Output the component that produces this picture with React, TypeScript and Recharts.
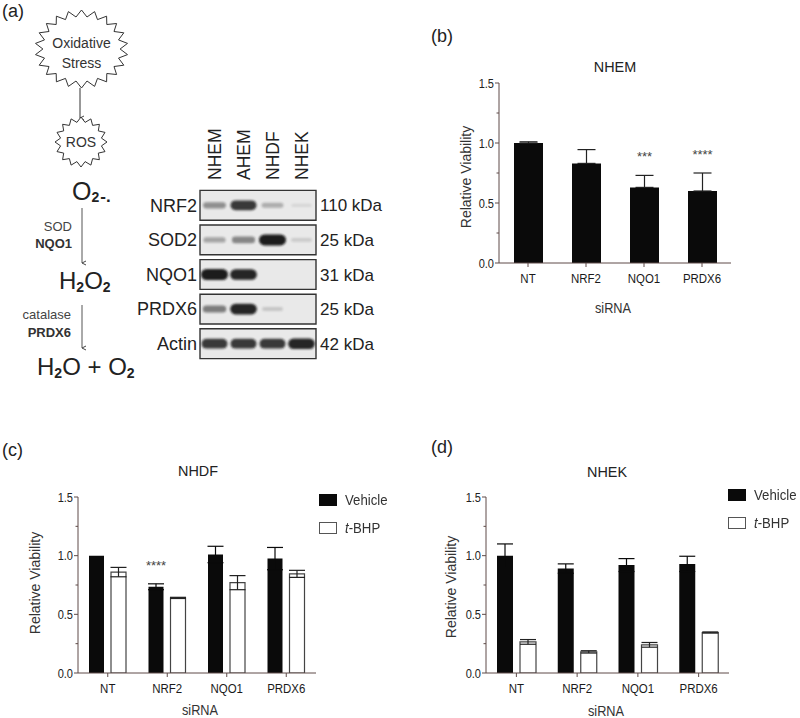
import React from 'react';
import {
  BarChart,
  Bar,
  XAxis,
  YAxis,
  ErrorBar,
  LabelList,
  Legend,
  ScatterChart,
  Scatter,
  ReferenceArea,
} from 'recharts';

const siRNA = ['NT', 'NRF2', 'NQO1', 'PRDX6'];

// (b) NHEM, single series, upward SEM only
const nhemViability = [1.0, 0.83, 0.63, 0.6];
const nhemSem = [0.01, 0.115, 0.1, 0.15];
const nhemStars = ['', '', '***', '****'];

// (c) NHDF
const nhdfVehicle = [1.0, 0.735, 1.01, 0.975];
const nhdfVehicleSem = [0, 0.025, 0.07, 0.095];
const nhdfTbhp = [0.86, 0.64, 0.77, 0.845];
const nhdfTbhpSem = [0.04, 0.005, 0.06, 0.03];
const nhdfStars = ['', '****', '', ''];

// (d) NHEK
const nhekVehicle = [1.0, 0.89, 0.92, 0.93];
const nhekVehicleSem = [0.1, 0.04, 0.055, 0.065];
const nhekTbhp = [0.265, 0.18, 0.24, 0.345];
const nhekTbhpSem = [0.02, 0.01, 0.02, 0.005];
const nhekStars = ['', '', '', ''];

// (a) western blot, band strength per lane (0 = no band)
const lanes = ['NHEM', 'AHEM', 'NHDF', 'NHEK'];
const proteins = ['NRF2', 'SOD2', 'NQO1', 'PRDX6', 'Actin'];
const proteinSizes = ['110 kDa', '25 kDa', '31 kDa', '25 kDa', '42 kDa'];
const nrf2Bands = [0.4, 0.85, 0.25, 0.04];
const sod2Bands = [0.3, 0.45, 1.0, 0.1];
const nqo1Bands = [1.0, 0.95, 0, 0];
const prdx6Bands = [0.5, 0.95, 0.12, 0];
const actinBands = [0.85, 0.85, 0.85, 0.95];

const AXIS = '#5e4b48';
const INK = '#0a0a0a';
const FONT = '"Liberation Sans", Arial, sans-serif';
const SQUEEZE = 0.85; // the figure's chart lettering is horizontally condensed
const yTicks = [0, 0.25, 0.5, 0.75, 1, 1.25, 1.5];

const nhemRows = siRNA.map((name, i) => ({
  name,
  value: nhemViability[i],
  err: nhemSem[i],
  stars: nhemStars[i],
}));

const pairRows = (veh: number[], vehErr: number[], tb: number[], tbErr: number[], stars: string[]) =>
  siRNA.map((name, i) => ({
    name,
    vehicle: veh[i],
    vehicleErr: vehErr[i],
    tbhp: tb[i],
    tbhpErr: tbErr[i],
    stars: stars[i],
  }));

const nhdfRows = pairRows(nhdfVehicle, nhdfVehicleSem, nhdfTbhp, nhdfTbhpSem, nhdfStars);
const nhekRows = pairRows(nhekVehicle, nhekVehicleSem, nhekTbhp, nhekTbhpSem, nhekStars);

const blotRows = [nrf2Bands, sod2Bands, nqo1Bands, prdx6Bands, actinBands];
const bandPoints = blotRows.flatMap((row, r) =>
  row.map((level, lane) => ({ lane, row: r, level }))
);

// horizontally condensed svg text
function Narrow({ x, y, size, anchor = 'middle', scale = SQUEEZE, fill = '#222', weight, children, dy }: any) {
  return (
    <text
      transform={`translate(${x} ${y}) scale(${scale} 1)`}
      textAnchor={anchor}
      fontSize={size}
      fontWeight={weight}
      fill={fill}
      fontFamily={FONT}
      dy={dy}
    >
      {children}
    </text>
  );
}

function ViabilityTick({ x, y, payload }: any) {
  const v = payload.value;
  const major = Math.abs(v * 2 - Math.round(v * 2)) < 1e-6;
  return (
    <g>
      <line x1={x - (major ? 4 : 2.5)} x2={x} y1={y} y2={y} stroke={AXIS} strokeWidth={1} />
      {major && (
        <Narrow x={x - 5} y={y} dy="0.36em" anchor="end" size={13}>
          {v.toFixed(1)}
        </Narrow>
      )}
    </g>
  );
}

function CategoryTick({ x, y, payload }: any) {
  return (
    <Narrow x={x} y={y} dy="0.71em" size={13.5} fill="#1a1a1a">
      {payload.value}
    </Narrow>
  );
}

// asterisks sit a fixed distance above the top of the error bar
const starLabel = (rows: any[], valueKey: string, errKey: string) => (p: any) => {
  const row = rows[p.index];
  if (!row || !row.stars) return null;
  const vb = p.viewBox || p;
  const perUnit = vb.height / row[valueKey];
  const top = vb.y - row[errKey] * perUnit;
  return (
    <text x={vb.x + vb.width / 2} y={top - 14} textAnchor="middle" fontSize={13} fill="#444" fontFamily={FONT}>
      {row.stars}
    </text>
  );
};

const legendText: React.CSSProperties = {
  display: 'inline-block',
  transform: 'scaleX(0.88)',
  transformOrigin: 'left center',
  whiteSpace: 'nowrap',
};

const legendContent = () => (
  <div style={{ fontFamily: FONT, fontSize: 15, color: '#333', lineHeight: '12px' }}>
    <div style={{ display: 'flex', alignItems: 'center', height: 12, marginBottom: 16 }}>
      <div style={{ width: 18, height: 12, background: INK, marginRight: 8, flex: 'none' }} />
      <span style={legendText}>Vehicle</span>
    </div>
    <div style={{ display: 'flex', alignItems: 'center', height: 12 }}>
      <div style={{ width: 16, height: 10, border: '1px solid #555', background: '#fff', marginRight: 8, flex: 'none' }} />
      <span style={legendText}>
        <i>t</i>-BHP
      </span>
    </div>
  </div>
);

const xAxisProps = {
  dataKey: 'name',
  height: 30,
  axisLine: { stroke: AXIS },
  tickLine: { stroke: AXIS },
  tickSize: 4,
  tickMargin: 6,
  interval: 0 as const,
  tick: <CategoryTick />,
};

const yAxisProps = {
  width: 40,
  type: 'number' as const,
  domain: [0, 1.5],
  ticks: yTicks,
  interval: 0 as const,
  axisLine: { stroke: AXIS },
  tickLine: false,
  tickSize: 0,
  tickMargin: 0,
  tick: <ViabilityTick />,
  allowDataOverflow: true,
};

function PairChart({ rows, margin, barSize, legendPos }: any) {
  return (
    <BarChart width={400} height={338} data={rows} margin={margin} barGap={7}>
      <XAxis {...xAxisProps} />
      <YAxis {...yAxisProps} />
      <Legend
        layout="vertical"
        align="center"
        verticalAlign="middle"
        content={legendContent}
        wrapperStyle={{ position: 'absolute', left: legendPos[0], top: legendPos[1], width: 'auto' }}
      />
      <Bar dataKey="vehicle" fill={INK} barSize={barSize} isAnimationActive={false}>
        <ErrorBar dataKey="vehicleErr" width={8} stroke={INK} strokeWidth={1.2} direction="y" />
        <LabelList dataKey="stars" content={starLabel(rows, 'vehicle', 'vehicleErr')} />
      </Bar>
      <Bar dataKey="tbhp" fill="#fff" stroke="#444" strokeWidth={1.2} barSize={barSize} isAnimationActive={false}>
        <ErrorBar dataKey="tbhpErr" width={8} stroke="#222" strokeWidth={1.2} direction="y" />
      </Bar>
    </BarChart>
  );
}

function LaneTick({ x, y, payload }: any) {
  return (
    <text
      x={x}
      y={y}
      dy="0.36em"
      transform={`rotate(-90 ${x} ${y})`}
      textAnchor="start"
      fontSize={17.5}
      fill="#222"
      fontFamily={FONT}
    >
      {lanes[payload.value]}
    </text>
  );
}

function Band({ cx, cy, payload }: any) {
  const level = payload.level;
  if (!level) return <g />;
  const w = 20 + 7 * level;
  const h = 3 + 8 * level;
  return (
    <rect
      x={cx - w / 2}
      y={cy - h / 2}
      width={w}
      height={h}
      rx={h / 2}
      fill="#151515"
      opacity={0.05 + 0.92 * level}
      filter="url(#bandBlur)"
    />
  );
}

function burst(cx: number, cy: number, rx: number, ry: number, inner: number, n: number) {
  const pts: string[] = [];
  for (let i = 0; i < 2 * n; i++) {
    const a = (Math.PI * i) / n - Math.PI / 2;
    const k = i % 2 === 0 ? 1 : inner;
    pts.push(`${(cx + Math.cos(a) * rx * k).toFixed(1)},${(cy + Math.sin(a) * ry * k).toFixed(1)}`);
  }
  return pts.join(' ');
}

export default function App() {
  return (
    <div
      style={{
        position: 'absolute',
        left: 0,
        top: 0,
        width: 800,
        height: 718,
        background: '#fff',
        overflow: 'hidden',
        fontFamily: FONT,
      }}
    >
      <svg width={800} height={718} style={{ position: 'absolute', left: 0, top: 0 }} fontFamily={FONT}>
        <defs>
          <filter id="bandBlur" x="-50%" y="-150%" width="200%" height="400%">
            <feGaussianBlur stdDeviation="1.3" />
          </filter>
          <marker id="arrowHead" markerWidth="6" markerHeight="6" refX="3" refY="5" orient="auto" markerUnits="userSpaceOnUse">
            <path d="M1,1 L3,5 L5,1" fill="none" stroke="#444" strokeWidth={1} />
          </marker>
        </defs>

        {/* panel letters */}
        <text x={2} y={17} fontSize={18} fill="#222">(a)</text>
        <text x={431} y={42} fontSize={18} fill="#222">(b)</text>
        <text x={2} y={456} fontSize={18} fill="#222">(c)</text>
        <text x={431} y={453} fontSize={18} fill="#222">(d)</text>

        {/* (a) pathway */}
        <polygon points={burst(81.5, 49, 46.5, 39, 0.83, 22)} fill="#fff" stroke="#333" strokeWidth={1} />
        <text x={81.5} y={48} fontSize={14} textAnchor="middle" fill="#333">Oxidative</text>
        <text x={81.5} y={68} fontSize={14} textAnchor="middle" fill="#333">Stress</text>
        <line x1={80} y1={88} x2={80} y2={118} stroke="#333" strokeWidth={1} markerEnd="url(#arrowHead)" />
        <polygon points={burst(81, 142, 26, 25, 0.8, 16)} fill="#fff" stroke="#333" strokeWidth={1} />
        <text x={81} y={147} fontSize={14} textAnchor="middle" fill="#333">ROS</text>

        <text x={72} y={200} fontSize={25} fill="#222">
          O<tspan fontSize={14} fontWeight="bold" dy={2}>2</tspan>
          <tspan fontSize={17} fontWeight="bold" dx={1}>-.</tspan>
        </text>
        <line x1={82} y1={208} x2={82} y2={263} stroke="#555" strokeWidth={1} markerEnd="url(#arrowHead)" />
        <text x={72} y={231} fontSize={13} textAnchor="end" fill="#444">SOD</text>
        <text x={72} y={248} fontSize={13} fontWeight="bold" textAnchor="end" fill="#333">NQO1</text>
        <text x={59} y={289} fontSize={24} fill="#222">
          H<tspan fontSize={14} fontWeight="bold" dy={3}>2</tspan>
          <tspan dy={-3}>O</tspan>
          <tspan fontSize={14} fontWeight="bold" dy={3}>2</tspan>
        </text>
        <line x1={82} y1={305} x2={82} y2={348} stroke="#555" strokeWidth={1} markerEnd="url(#arrowHead)" />
        <text x={71} y={319} fontSize={13} textAnchor="end" fill="#444">catalase</text>
        <text x={71} y={337} fontSize={13} fontWeight="bold" textAnchor="end" fill="#333">PRDX6</text>
        <text x={37} y={375} fontSize={24} fill="#222">
          H<tspan fontSize={14} fontWeight="bold" dy={3}>2</tspan>
          <tspan dy={-3}>O + O</tspan>
          <tspan fontSize={14} fontWeight="bold" dy={3}>2</tspan>
        </text>

        {/* chart titles and axis titles */}
        <Narrow x={615} y={72} size={15.5} scale={0.93}>NHEM</Narrow>
        <Narrow x={198} y={476} size={15.5} scale={0.93}>NHDF</Narrow>
        <Narrow x={607} y={477} size={15.5} scale={0.93}>NHEK</Narrow>

        <text x={471} y={177} fontSize={14} textAnchor="middle" fill="#333" transform="rotate(-90 471 177)">Relative Viability</text>
        <text x={40} y={583} fontSize={14} textAnchor="middle" fill="#333" transform="rotate(-90 40 583)">Relative Viability</text>
        <text x={456} y={587} fontSize={14} textAnchor="middle" fill="#333" transform="rotate(-90 456 587)">Relative Viability</text>

        <Narrow x={613} y={313} size={15} fill="#333">siRNA</Narrow>
        <Narrow x={200} y={715} size={15} fill="#333">siRNA</Narrow>
        <Narrow x={606} y={716} size={15} fill="#333">siRNA</Narrow>
      </svg>

      {/* (a) western blot */}
      <div style={{ position: 'absolute', left: 130, top: 100 }}>
        <ScatterChart width={266} height={265} margin={{ top: 28, right: 0, bottom: 4, left: 10 }}>
          <XAxis
            xAxisId={0}
            type="number"
            dataKey="lane"
            orientation="top"
            domain={[-0.5, 3.5]}
            ticks={[0, 1, 2, 3]}
            interval={0}
            height={60}
            axisLine={false}
            tickLine={false}
            tickSize={0}
            tickMargin={8}
            tick={<LaneTick />}
          />
          <YAxis
            yAxisId="left"
            type="number"
            dataKey="row"
            domain={[-0.5, 4.5]}
            ticks={[0, 1, 2, 3, 4]}
            interval={0}
            reversed
            width={60}
            axisLine={false}
            tickLine={false}
            tickSize={0}
            tickMargin={3}
            tickFormatter={(v: number) => proteins[v]}
            tick={{ fontSize: 18, fill: '#222', fontFamily: FONT }}
          />
          <YAxis
            yAxisId="right"
            orientation="right"
            type="number"
            dataKey="row"
            domain={[-0.5, 4.5]}
            ticks={[0, 1, 2, 3, 4]}
            interval={0}
            reversed
            width={80}
            axisLine={false}
            tickLine={false}
            tickSize={0}
            tickMargin={4}
            tickFormatter={(v: number) => proteinSizes[v]}
            tick={{ fontSize: 17, fill: '#222', fontFamily: FONT, textAnchor: 'start' }}
          />
          {proteins.map((p, i) => (
            <ReferenceArea
              key={p}
              yAxisId="left"
              x1={-0.5}
              x2={3.5}
              y1={i - 0.43}
              y2={i + 0.43}
              fill="#e9e9e9"
              fillOpacity={1}
              stroke="#333"
              strokeWidth={1.4}
            />
          ))}
          <Scatter yAxisId="left" data={bandPoints} shape={<Band />} isAnimationActive={false} />
          <Scatter yAxisId="right" data={bandPoints} shape={() => <g />} isAnimationActive={false} />
        </ScatterChart>
      </div>

      {/* (b) NHEM */}
      <div style={{ position: 'absolute', left: 400, top: 0 }}>
        <BarChart width={400} height={360} data={nhemRows} margin={{ top: 83, right: 69, bottom: 67, left: 59 }}>
          <XAxis {...xAxisProps} />
          <YAxis {...yAxisProps} />
          <Bar dataKey="value" fill={INK} barSize={29} isAnimationActive={false}>
            <ErrorBar dataKey={(d: any) => [0, d.err]} width={9} stroke="#222" strokeWidth={1.2} direction="y" />
            <LabelList dataKey="stars" content={starLabel(nhemRows, 'value', 'err')} />
          </Bar>
        </BarChart>
      </div>

      {/* (c) NHDF */}
      <div style={{ position: 'absolute', left: 0, top: 380 }}>
        <PairChart
          rows={nhdfRows}
          margin={{ top: 117, right: 84, bottom: 15, left: 38 }}
          barSize={15}
          legendPos={[319, 114]}
        />
      </div>

      {/* (d) NHEK */}
      <div style={{ position: 'absolute', left: 400, top: 380 }}>
        <PairChart
          rows={nhekRows}
          margin={{ top: 117, right: 71, bottom: 15, left: 46 }}
          barSize={16}
          legendPos={[328, 109]}
        />
      </div>
    </div>
  );
}
